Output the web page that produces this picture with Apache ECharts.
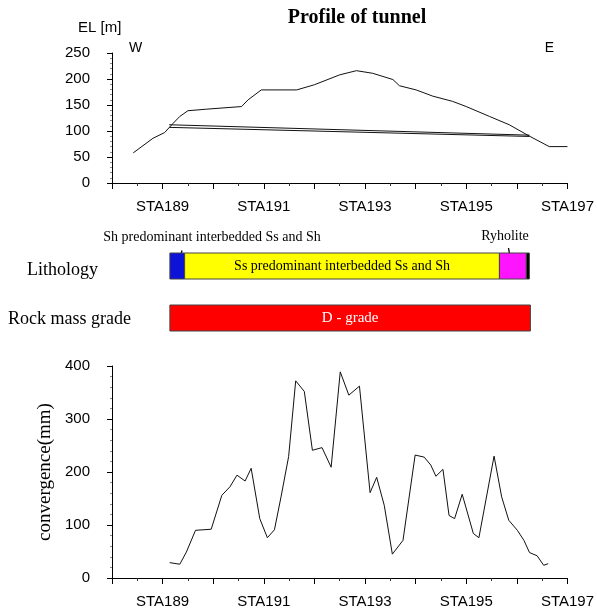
<!DOCTYPE html>
<html>
<head>
<meta charset="utf-8">
<script src="https://cdn.jsdelivr.net/npm/echarts@6/dist/echarts.min.js"></script>
<style>
html,body{margin:0;padding:0;background:#fff;}
#chart{width:597px;height:613px;}
</style>
</head>
<body>
<div id="chart"></div>
<script>
// ---- Data ----
var stationTicks = [189, 191, 193, 195, 197];
// Ground surface profile (station, elevation m)
var groundSta = [188.42, 188.81, 189.04, 189.21, 189.34, 189.50, 189.87, 190.56, 190.69, 190.95, 191.65, 192.00, 192.50, 192.83, 193.15, 193.55, 193.68, 194.01, 194.34, 194.73, 195.00, 195.46, 195.85, 196.25, 196.64, 197.00];
var groundEl  = [58, 86, 97, 115, 128, 139, 142, 147, 160, 179, 179, 189, 208, 216, 211, 199, 187, 179, 167, 157, 147, 128, 112, 90, 70, 70];
// Tunnel (double line)
var tunnelSta = [189.13, 196.25];
var tunnelTop = [112, 92];
var tunnelBottom = [107, 89.5];
// Lithology segments
var lithoStart = [189.14, 189.43, 195.63, 196.16];
var lithoEnd   = [189.43, 195.63, 196.16, 196.22];
var lithoName  = ['Sh predominant interbedded Ss and Sh', 'Ss predominant interbedded Ss and Sh', 'Ryholite', ''];
// Rock mass grade
var gradeStart = [189.14];
var gradeEnd   = [196.24];
var gradeName  = ['D - grade'];
var rowNames = ['Lithology', 'Rock mass grade'];
// Convergence
var convSta = [189.14, 189.34, 189.47, 189.65, 189.96, 190.17, 190.33, 190.47, 190.63, 190.75, 190.92, 191.07, 191.21, 191.34, 191.49, 191.63, 191.80, 191.96, 192.15, 192.33, 192.51, 192.68, 192.89, 193.10, 193.23, 193.38, 193.54, 193.75, 193.99, 194.17, 194.30, 194.40, 194.54, 194.66, 194.77, 194.92, 195.14, 195.25, 195.55, 195.70, 195.84, 196.01, 196.14, 196.25, 196.40, 196.53, 196.62];
var convVal = [29, 26, 49, 90, 92, 156, 172, 194, 183, 207, 112, 76, 91, 153, 229, 372, 352, 241, 246, 209, 389, 345, 362, 161, 190, 137, 45, 71, 232, 228, 213, 192, 205, 118, 112, 158, 84, 76, 230, 153, 109, 90, 71, 48, 42, 24, 27];

// ---- Styles ----
var SANS = "'Liberation Sans',Arial,sans-serif";
var SERIF = "'Liberation Serif','Times New Roman',serif";
var lithoColors = ['#0c12d6', '#ffff00', '#ff14ff', '#000000'];
var gradeColors = ['#ff0000'];

function zip(a, b) { return a.map(function (v, i) { return [v, b[i]]; }); }

function xAxisCfg(gridIndex, show) {
  return {
    type: 'value', gridIndex: gridIndex, min: 188, max: 197, interval: 1, show: show,
    axisLine: { lineStyle: { color: '#000', width: 1 } },
    axisTick: { length: 6, lineStyle: { color: '#000' } },
    minorTick: { show: true, splitNumber: 2, length: 3, lineStyle: { color: '#333' } },
    splitLine: { show: false }, minorSplitLine: { show: false },
    axisLabel: {
      margin: 16, color: '#000', fontFamily: SANS, fontSize: 15,
      formatter: function (v) { return stationTicks.indexOf(v) >= 0 ? 'STA' + v : ''; }
    }
  };
}
function yAxisCfg(gridIndex, max, interval, extra) {
  var o = {
    type: 'value', gridIndex: gridIndex, min: 0, max: max, interval: interval,
    axisLine: { show: true, lineStyle: { color: '#000', width: 1 } },
    axisTick: { show: true, length: 5, lineStyle: { color: '#000' } },
    minorTick: { show: true, splitNumber: 5, length: 2, lineStyle: { color: '#888' } },
    splitLine: { show: false },
    axisLabel: { margin: 22, color: '#000', fontFamily: SANS, fontSize: 15 }
  };
  for (var k in extra) o[k] = extra[k];
  return o;
}

function segRender(colors, labelColor, fontSize) {
  return function (params, api) {
    var row = api.value(2);
    var s = api.coord([api.value(0), row]);
    var e = api.coord([api.value(1), row]);
    var h = api.size([0, 1])[1] * 0.5;
    var idx = params.dataIndex;
    var label = params.seriesName === 'litho' ? (idx === 1 ? lithoName[idx] : '') : gradeName[idx];
    return {
      type: 'rect',
      shape: { x: s[0], y: s[1] - h / 2, width: e[0] - s[0], height: h },
      style: { fill: colors[idx], stroke: '#444', lineWidth: 1 },
      textContent: { style: { text: label, fill: labelColor, font: fontSize + 'px ' + SERIF } },
      textConfig: { position: 'inside' }
    };
  };
}

var chart = echarts.init(document.getElementById('chart'), null, { renderer: 'canvas' });
var option = {
  backgroundColor: '#fff',
  animation: false,
  grid: [
    { left: 112, right: 28, top: 53, height: 130 },
    { left: 112, right: 28, top: 240, height: 104 },
    { left: 112, right: 28, top: 366, height: 212 }
  ],
  xAxis: [xAxisCfg(0, true), xAxisCfg(1, false), xAxisCfg(2, true)],
  yAxis: [
    yAxisCfg(0, 250, 50, {}),
    { type: 'category', gridIndex: 1, data: rowNames, inverse: true, show: false },
    yAxisCfg(2, 400, 100, {
      name: 'convergence(mm)', nameLocation: 'middle', nameGap: 55, nameRotate: 90,
      nameTextStyle: { fontFamily: SERIF, fontSize: 19, color: '#000' }
    })
  ],
  series: [
    { type: 'line', xAxisIndex: 0, yAxisIndex: 0, data: zip(groundSta, groundEl), symbol: 'none',
      lineStyle: { color: '#111', width: 1 } },
    { type: 'line', xAxisIndex: 0, yAxisIndex: 0, data: zip(tunnelSta, tunnelTop), symbol: 'none',
      lineStyle: { color: '#111', width: 1 } },
    { type: 'line', xAxisIndex: 0, yAxisIndex: 0, data: zip(tunnelSta, tunnelBottom), symbol: 'none',
      lineStyle: { color: '#111', width: 1 } },
    { type: 'custom', name: 'litho', xAxisIndex: 1, yAxisIndex: 1,
      renderItem: segRender(lithoColors, '#000', 14),
      data: lithoStart.map(function (v, i) { return [v, lithoEnd[i], 0]; }) },
    { type: 'custom', name: 'grade', xAxisIndex: 1, yAxisIndex: 1,
      renderItem: segRender(gradeColors, '#fff', 15),
      data: gradeStart.map(function (v, i) { return [v, gradeEnd[i], 1]; }) },
    { type: 'line', xAxisIndex: 2, yAxisIndex: 2, data: zip(convSta, convVal), symbol: 'none',
      lineStyle: { color: '#111', width: 1 } }
  ],
  graphic: [
    { type: 'text', style: { text: 'Profile of tunnel', x: 357, y: 18, textAlign: 'center', textVerticalAlign: 'middle',
      font: 'bold 20px ' + SERIF, fill: '#000' } },
    { type: 'text', style: { text: 'EL [m]', x: 78, y: 28, textAlign: 'left', textVerticalAlign: 'middle',
      font: '15px ' + SANS, fill: '#000' } },
    { type: 'text', style: { text: 'W', x: 135.5, y: 48, textAlign: 'center', textVerticalAlign: 'middle',
      font: '14px ' + SANS, fill: '#000' } },
    { type: 'text', style: { text: 'E', x: 549.5, y: 48, textAlign: 'center', textVerticalAlign: 'middle',
      font: '14px ' + SANS, fill: '#000' } },
    { type: 'text', style: { text: lithoName[0], x: 212, y: 237, textAlign: 'center', textVerticalAlign: 'middle',
      font: '14px ' + SERIF, fill: '#000' } },
    { type: 'text', style: { text: lithoName[2], x: 505, y: 236, textAlign: 'center', textVerticalAlign: 'middle',
      font: '14px ' + SERIF, fill: '#000' } },
    { type: 'line', shape: { x1: 182, y1: 250.5, x2: 178.5, y2: 263.5 }, style: { stroke: '#000', lineWidth: 1.3 } },
    { type: 'line', shape: { x1: 508.5, y1: 248, x2: 511.5, y2: 265 }, style: { stroke: '#000', lineWidth: 1.3 } },
    { type: 'text', style: { text: rowNames[0], x: 27, y: 270, textAlign: 'left', textVerticalAlign: 'middle',
      font: '18px ' + SERIF, fill: '#000' } },
    { type: 'text', style: { text: rowNames[1], x: 8, y: 319, textAlign: 'left', textVerticalAlign: 'middle',
      font: '18px ' + SERIF, fill: '#000' } }
  ]
};
chart.setOption(option);
</script>
</body>
</html>
